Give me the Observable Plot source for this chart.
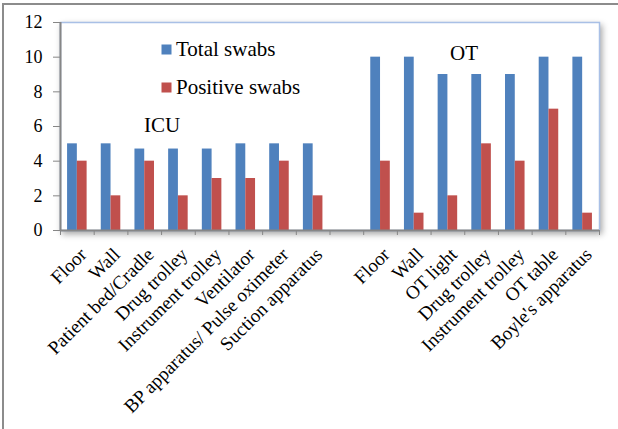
<!DOCTYPE html>
<html>
<head>
<meta charset="utf-8">
<script src="https://cdn.jsdelivr.net/npm/d3@7"></script>
<script src="https://cdn.jsdelivr.net/npm/@observablehq/plot@0.6"></script>
<style>
  html, body { margin: 0; padding: 0; background: #fff; }
  #wrap { position: relative; width: 618px; height: 429px; overflow: hidden; }
  #frame { position: absolute; left: 2px; top: 3px; width: 800px; height: 800px;
           border-left: 2px solid #8c8c8c; border-top: 2px solid #8c8c8c; }
  #chart { position: absolute; left: 0; top: 0; }
  #chart svg text { font-family: "Liberation Serif", "Times New Roman", serif !important; }
</style>
</head>
<body>
<div id="wrap"><div id="frame"></div><div id="chart"></div></div>
<script>
// ---- data ----
const icuItems = ["Floor", "Wall", "Patient bed/Cradle", "Drug trolley", "Instrument trolley", "Ventilator", "BP apparatus/ Pulse oximeter", "Suction apparatus"];
const icuTotal = [5, 5, 4.7, 4.7, 4.7, 5, 5, 5];
const icuPositive = [4, 2, 4, 2, 3, 3, 4, 2];
const otItems = ["Floor", "Wall", "OT light", "Drug trolley", "Instrument trolley", "OT table", "Boyle's apparatus"];
const otTotal = [10, 10, 9, 9, 9, 10, 10];
const otPositive = [4, 1, 2, 5, 4, 7, 1];
const seriesNames = ["Total swabs", "Positive swabs"];
const yTicks = [0, 2, 4, 6, 8, 10, 12];

// ---- build table: ICU slots, one empty slot, OT slots ----
const rows = [];
icuItems.forEach((name, k) => rows.push({slot: k, name, total: icuTotal[k], positive: icuPositive[k]}));
const otStart = icuItems.length + 1;
otItems.forEach((name, k) => rows.push({slot: otStart + k, name, total: otTotal[k], positive: otPositive[k]}));
const nSlots = otStart + otItems.length;

const blue = "#4f81bd", red = "#c0504d";
const font = "Liberation Serif, Times New Roman, serif";
const lo = 0.21, mid = 0.5, hi = 0.79; // bar placement within each slot (style)

const plot = Plot.plot({
  width: 618, height: 429,
  marginLeft: 60, marginTop: 22, marginRight: 19, marginBottom: 199,
  style: {fontFamily: font, fontSize: "18px", color: "black", background: "transparent"},
  x: {domain: [0, nSlots], axis: null},
  y: {domain: [0, 12], axis: null},
  marks: [
    Plot.frame({fill: "white", stroke: "#a9c0e6", strokeWidth: 1.5}),
    Plot.rectY(rows, {x1: d => d.slot + lo, x2: d => d.slot + mid, y: "total", fill: blue, inset: 0}),
    Plot.rectY(rows, {x1: d => d.slot + mid, x2: d => d.slot + hi, y: "positive", fill: red, inset: 0}),
    Plot.axisY({ticks: yTicks, tickSize: 7, tickPadding: 11, stroke: "#868686", fill: "black", fontSize: 18, label: null}),
    Plot.axisX({ticks: d3.range(0, nSlots + 1), tickSize: 5, tickFormat: () => "", stroke: "#868686", label: null}),
    Plot.ruleX([0], {stroke: "#868686", strokeWidth: 2}),
    Plot.ruleY([0], {stroke: "#868686", strokeWidth: 2}),
    Plot.text(rows, {x: d => d.slot + 0.5, y: 0, text: "name", rotate: -45, textAnchor: "end",
      lineAnchor: "middle", dx: 6, dy: 21, fontSize: 19, fill: "black"})
  ]
});
document.getElementById("chart").appendChild(plot);

// drop shadow on plot area
const svg = d3.select(plot);
svg.select("rect").style("filter", "drop-shadow(2px 3px 3px rgba(0,0,0,0.35))");

// legend and group annotations
const g = svg.append("g").style("font-size", "21px").attr("text-anchor", "start").attr("fill", "black");
seriesNames.forEach((s, k) => {
  const y0 = k === 0 ? 56 : 94;
  g.append("rect").attr("x", 161.5).attr("y", y0 - 11.5).attr("width", 10).attr("height", 10).attr("fill", k === 0 ? blue : red);
  g.append("text").attr("x", 176).attr("y", y0).text(s);
});
g.append("text").attr("x", 144).attr("y", 132).text("ICU");
g.append("text").attr("x", 450).attr("y", 60).text("OT");
</script>
</body>
</html>
